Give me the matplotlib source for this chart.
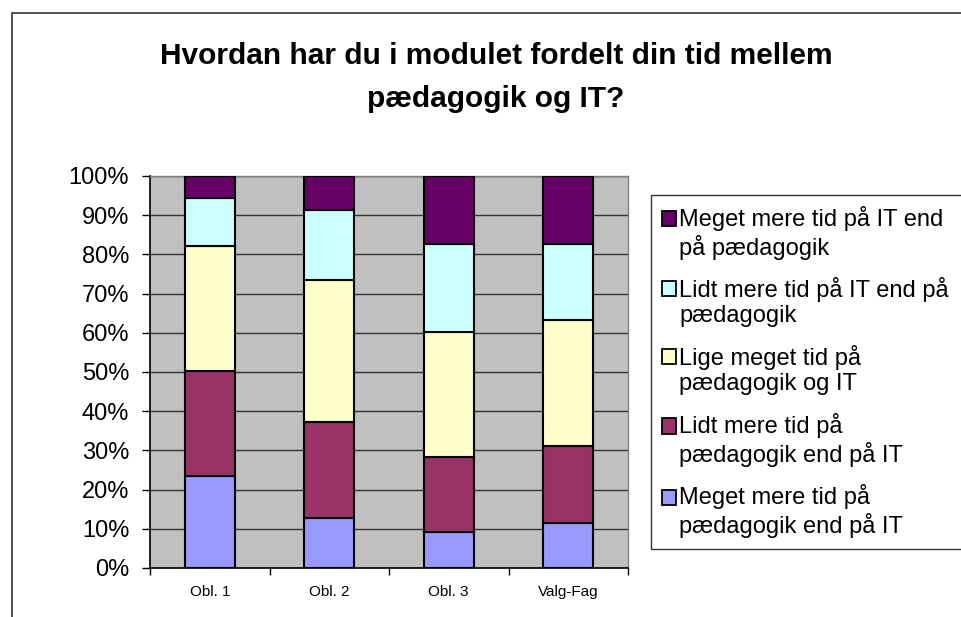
import matplotlib
matplotlib.use("Agg")
import matplotlib.pyplot as plt
from matplotlib.patches import Rectangle, Patch
from matplotlib.legend_handler import HandlerPatch
import numpy as np

plt.rcParams['font.family'] = ['Liberation Sans', 'DejaVu Sans']

categories = ["Obl. 1", "Obl. 2", "Obl. 3", "Valg-Fag"]
series_names = [
    "Meget mere tid på\npædagogik end på IT",
    "Lidt mere tid på\npædagogik end på IT",
    "Lige meget tid på\npædagogik og IT",
    "Lidt mere tid på IT end på\npædagogik",
    "Meget mere tid på IT end\npå pædagogik",
]
meget_paed = [23.5, 12.8, 9.2, 11.6]
lidt_paed = [26.8, 24.5, 19.2, 19.5]
lige = [31.9, 36.2, 31.7, 32.2]
lidt_it = [12.2, 17.8, 22.6, 19.4]
meget_it = [5.6, 8.7, 17.3, 17.3]
colors = ["#9999FF", "#993366", "#FFFFCC", "#CCFFFF", "#660066"]
y_ticks = [0, 10, 20, 30, 40, 50, 60, 70, 80, 90, 100]
y_tick_labels = [f"{v}%" for v in y_ticks]
title_lines = ["Hvordan har du i modulet fordelt din tid mellem", "pædagogik og IT?"]

W, H = 961, 617
fig = plt.figure(figsize=(W / 100, H / 100), dpi=100)

# chart-area border (left and top visible)
fig.add_artist(Rectangle((11.5 / W, -0.1), 1.2, 1.1 - 13.5 / H, transform=fig.transFigure,
                         fill=False, edgecolor="#333333", linewidth=1.2))

ax = fig.add_axes([150 / W, 49 / H, 478 / W, 392 / H])
ax.set_facecolor("#C0C0C0")

data = [meget_paed, lidt_paed, lige, lidt_it, meget_it]
x = np.arange(len(categories))
bottom = np.zeros(len(categories))
handles = []
for vals, col, name in zip(data, colors, series_names):
    ax.bar(x, vals, bottom=bottom, width=0.42, color=col, edgecolor="black",
           linewidth=1.5, zorder=3)
    bottom += np.array(vals)
    handles.append(Patch(facecolor=col, edgecolor="black", linewidth=1.3, label=name))

ax.set_xlim(-0.5, len(categories) - 0.5)
ax.set_ylim(0, 100)
ax.set_yticks(y_ticks)
ax.set_yticklabels(y_tick_labels, fontsize=17)
ax.yaxis.grid(True, color="#333333", linewidth=1.0, zorder=0)
ax.set_axisbelow(True)
ax.tick_params(axis="y", direction="out", length=6, width=1, pad=9)

ax.set_xticks(np.arange(-0.5, len(categories), 1.0))
ax.set_xticklabels([])
ax.set_xticks(x, minor=True)
ax.set_xticklabels(categories, minor=True, fontsize=11)
ax.tick_params(axis="x", which="major", direction="out", length=5, width=1)
ax.tick_params(axis="x", which="minor", length=0, pad=12)

for s in ["left", "bottom"]:
    ax.spines[s].set_color("black")
    ax.spines[s].set_linewidth(1.2)
for s in ["top", "right"]:
    ax.spines[s].set_color("#808080")
    ax.spines[s].set_linewidth(1.0)

LEG_FS = 17


class TopHandler(HandlerPatch):
    """Square handle aligned with the first line of a two-line label."""
    def create_artists(self, legend, orig_handle, xdescent, ydescent, width, height,
                       fontsize, trans):
        shift = 0.6 * fontsize
        p = Rectangle((-xdescent, -ydescent + shift), width, height,
                      facecolor=orig_handle.get_facecolor(),
                      edgecolor="black", linewidth=1.3, transform=trans)
        return [p]


leg = fig.legend(handles[::-1], [h.get_label() for h in handles[::-1]],
                 loc="upper left", bbox_to_anchor=(651 / W, 1 - 195 / H, 0.4, 0.0),
                 mode="expand", fontsize=LEG_FS, frameon=True, fancybox=False,
                 edgecolor="#333333", framealpha=1, borderpad=0.45,
                 handlelength=0.62, handleheight=0.62, handletextpad=0.12,
                 labelspacing=0.74, borderaxespad=0,
                 handler_map={Patch: TopHandler()})
leg.get_frame().set_linewidth(1.0)
for t in leg.get_texts():
    t.set_linespacing(1.2)

fig.text(496 / W, 1 - 64 / H, title_lines[0], ha="center", va="baseline", fontsize=21.5,
         fontweight="bold")
fig.text(496 / W, 1 - 107 / H, title_lines[1], ha="center", va="baseline", fontsize=21.5,
         fontweight="bold")

fig.savefig("out.png", dpi=100)
